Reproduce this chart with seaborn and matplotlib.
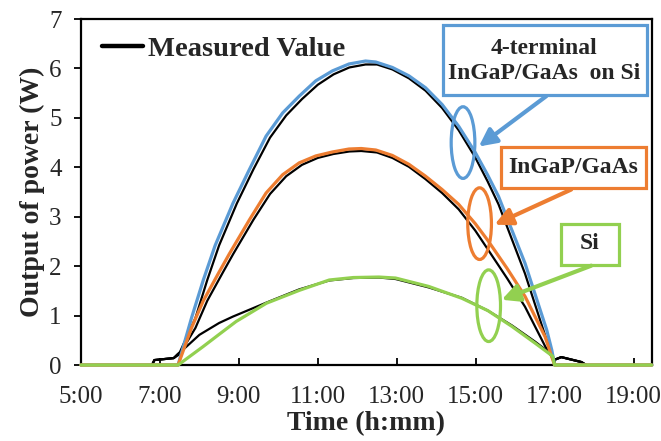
import matplotlib
matplotlib.use("Agg")
import matplotlib.pyplot as plt
import seaborn as sns
import pandas as pd
from matplotlib.lines import Line2D
from matplotlib.patches import Ellipse, Rectangle, FancyArrowPatch

# ---- data (hours of day, output power in W) ----
t_4t = [5.0, 7.46, 7.8, 8.1, 8.4, 8.85, 9.27, 9.69, 10.11, 10.53, 10.95, 11.37, 11.79, 12.21,
        12.47, 12.89, 13.31, 13.73, 14.15, 14.57, 14.99, 15.3, 15.58, 16.25, 16.8, 16.93, 17.0, 19.46]
p_4t = [0, 0, 0.95, 1.72, 2.42, 3.27, 3.96, 4.63, 5.10, 5.44, 5.75, 5.95, 6.09, 6.15,
        6.13, 6.02, 5.85, 5.61, 5.27, 4.83, 4.3, 3.85, 3.41, 2.06, 0.71, 0.3, 0, 0]

t_ig = [5.0, 7.46, 7.8, 8.1, 8.5, 8.76, 9.27, 9.69, 10.11, 10.53, 10.95, 11.37, 11.79, 12.1,
        12.47, 12.89, 13.31, 13.73, 14.15, 14.57, 14.99, 15.3, 15.8, 16.25, 16.76, 16.93, 17.0, 19.46]
p_ig = [0, 0, 0.75, 1.3, 1.88, 2.25, 2.94, 3.48, 3.85, 4.09, 4.23, 4.31, 4.37, 4.38,
        4.35, 4.24, 4.06, 3.82, 3.55, 3.25, 2.86, 2.53, 1.95, 1.39, 0.57, 0.16, 0, 0]

t_si = [5.0, 7.46, 8.09, 8.5, 8.93, 9.7, 10.53, 11.29, 11.9, 12.55, 12.97, 13.81, 14.65,
        15.31, 15.92, 16.51, 16.95, 17.0, 19.46]
p_si = [0, 0, 0.37, 0.62, 0.88, 1.25, 1.51, 1.72, 1.77, 1.78, 1.76, 1.59, 1.35,
        1.1, 0.78, 0.44, 0.18, 0, 0]

tm_4t = [6.8, 6.86, 7.35, 7.5, 7.9, 8.2, 8.5, 8.95, 9.37, 9.79, 10.2, 10.6, 11.0, 11.4, 11.8,
         12.21, 12.5, 12.89, 13.31, 13.73, 14.15, 14.57, 14.99, 15.3, 15.58, 16.25, 16.8,
         16.98, 17.17, 17.68, 17.8]
pm_4t = [0, 0.1, 0.14, 0.25, 0.95, 1.72, 2.42, 3.27, 3.96, 4.6, 5.05, 5.38, 5.67, 5.88, 6.02,
         6.08, 6.08, 5.98, 5.8, 5.55, 5.2, 4.75, 4.2, 3.72, 3.25, 1.85, 0.5,
         0.1, 0.16, 0.06, 0]

tm_ig = [6.8, 6.86, 7.35, 7.5, 7.9, 8.2, 8.6, 8.86, 9.37, 9.79, 10.2, 10.6, 11.0, 11.4, 11.8,
         12.1, 12.5, 12.89, 13.31, 13.73, 14.15, 14.57, 14.99, 15.3, 15.8, 16.25, 16.76,
         16.98, 17.17, 17.68, 17.8]
pm_ig = [0, 0.1, 0.14, 0.22, 0.75, 1.3, 1.88, 2.25, 2.94, 3.46, 3.82, 4.05, 4.19, 4.27, 4.32,
         4.33, 4.3, 4.19, 4.01, 3.76, 3.48, 3.15, 2.72, 2.35, 1.75, 1.18, 0.38,
         0.1, 0.16, 0.06, 0]

tm_si = [6.8, 6.86, 7.35, 7.45, 7.67, 8.0, 8.5, 8.85, 9.69, 10.53, 11.29, 11.9, 12.55, 12.97,
         13.81, 14.65, 15.31, 15.92, 16.51, 16.95, 16.98, 17.17, 17.68, 17.8]
pm_si = [0, 0.1, 0.14, 0.22, 0.37, 0.61, 0.85, 0.98, 1.26, 1.53, 1.71, 1.76, 1.77, 1.74,
         1.57, 1.36, 1.1, 0.8, 0.47, 0.2, 0.1, 0.16, 0.06, 0]

x_ticks = [5, 7, 9, 11, 13, 15, 17, 19]
x_ticklabels = ["5:00", "7:00", "9:00", "11:00", "13:00", "15:00", "17:00", "19:00"]
y_ticks = [0, 1, 2, 3, 4, 5, 6, 7]
labels = ["4-terminal\nInGaP/GaAs  on Si", "InGaP/GaAs", "Si"]

BLUE, ORANGE, GREEN = "#5B9BD5", "#ED7D31", "#92D050"

sns.set_style("ticks")
plt.rcParams["font.family"] = ["Liberation Serif", "DejaVu Serif"]

fig = plt.figure(figsize=(6.61, 4.41), dpi=100)
ax = fig.add_axes([0.1225, 0.1723, 0.8634, 0.7846])

for t, p in [(tm_4t, pm_4t), (tm_ig, pm_ig), (tm_si, pm_si)]:
    sns.lineplot(x=t, y=p, color="black", lw=1.6, ax=ax, estimator=None, sort=False,
                 zorder=3, clip_on=False)
for t, p, c in [(t_4t, p_4t, BLUE), (t_ig, p_ig, ORANGE), (t_si, p_si, GREEN)]:
    sns.lineplot(x=t, y=p, color=c, lw=2.3, ax=ax, estimator=None, sort=False,
                 zorder=4, clip_on=False)

ax.set_xlim(5, 19.46)
ax.set_ylim(0, 7)
ax.set_xticks(x_ticks)
ax.set_xticklabels(x_ticklabels)
ax.set_yticks(y_ticks)
ax.tick_params(axis="x", direction="in", length=5, width=1.3, labelsize=18, pad=15, color="black")
ax.tick_params(axis="y", direction="out", length=5, width=1.3, labelsize=18, pad=9, color="black")
for s in ax.spines.values():
    s.set_linewidth(1.6)
    s.set_color("black")

ax.set_xlabel("Time (h:mm)", fontsize=20, fontweight="bold", labelpad=2)
ax.set_ylabel("Output of power (W)", fontsize=20, fontweight="bold", labelpad=3)

handle = Line2D([], [], color="black", lw=3.2)
ax.legend([handle], ["Measured Value"], loc="upper left", bbox_to_anchor=(0.036, 0.952),
          frameon=False, borderpad=0, borderaxespad=0, handlelength=1.45, handletextpad=0.2,
          prop={"size": 20.5, "weight": "bold"})

# annotation boxes, ellipses and arrows
boxes = [((14.17, 5.46), 5.17, 1.42, BLUE, (16.74, 6.15)),
         ((15.63, 3.59), 3.69, 0.83, ORANGE, (17.47, 4.0)),
         ((17.15, 2.03), 1.49, 0.83, GREEN, (17.89, 2.45))]
ellipses = [((14.68, 4.50), BLUE), ((15.10, 2.86), ORANGE), ((15.33, 1.20), GREEN)]
arrows = [((16.79, 5.44), (15.08, 4.42), BLUE),
          ((17.42, 3.55), (15.48, 2.84), ORANGE),
          ((17.93, 2.01), (15.66, 1.32), GREEN)]

for (xy, w, h, c, txy), lab in zip(boxes, labels):
    ax.add_patch(Rectangle(xy, w, h, facecolor="white", edgecolor=c, lw=2.3, zorder=6))
    ax.text(txy[0], txy[1], lab, ha="center", va="center", fontsize=17, fontweight="bold",
            linespacing=1.25, zorder=7)
for (cxy, c) in ellipses:
    ax.add_patch(Ellipse(cxy, width=0.6, height=1.45, facecolor="none", edgecolor=c, lw=2.3, zorder=6))
for (a, b, c) in arrows:
    ax.add_patch(FancyArrowPatch(a, b, arrowstyle="-|>,head_length=0.7,head_width=0.35",
                                 mutation_scale=15, color=c, lw=3, shrinkA=0, shrinkB=0, zorder=6))

fig.savefig("out.png", dpi=100)
